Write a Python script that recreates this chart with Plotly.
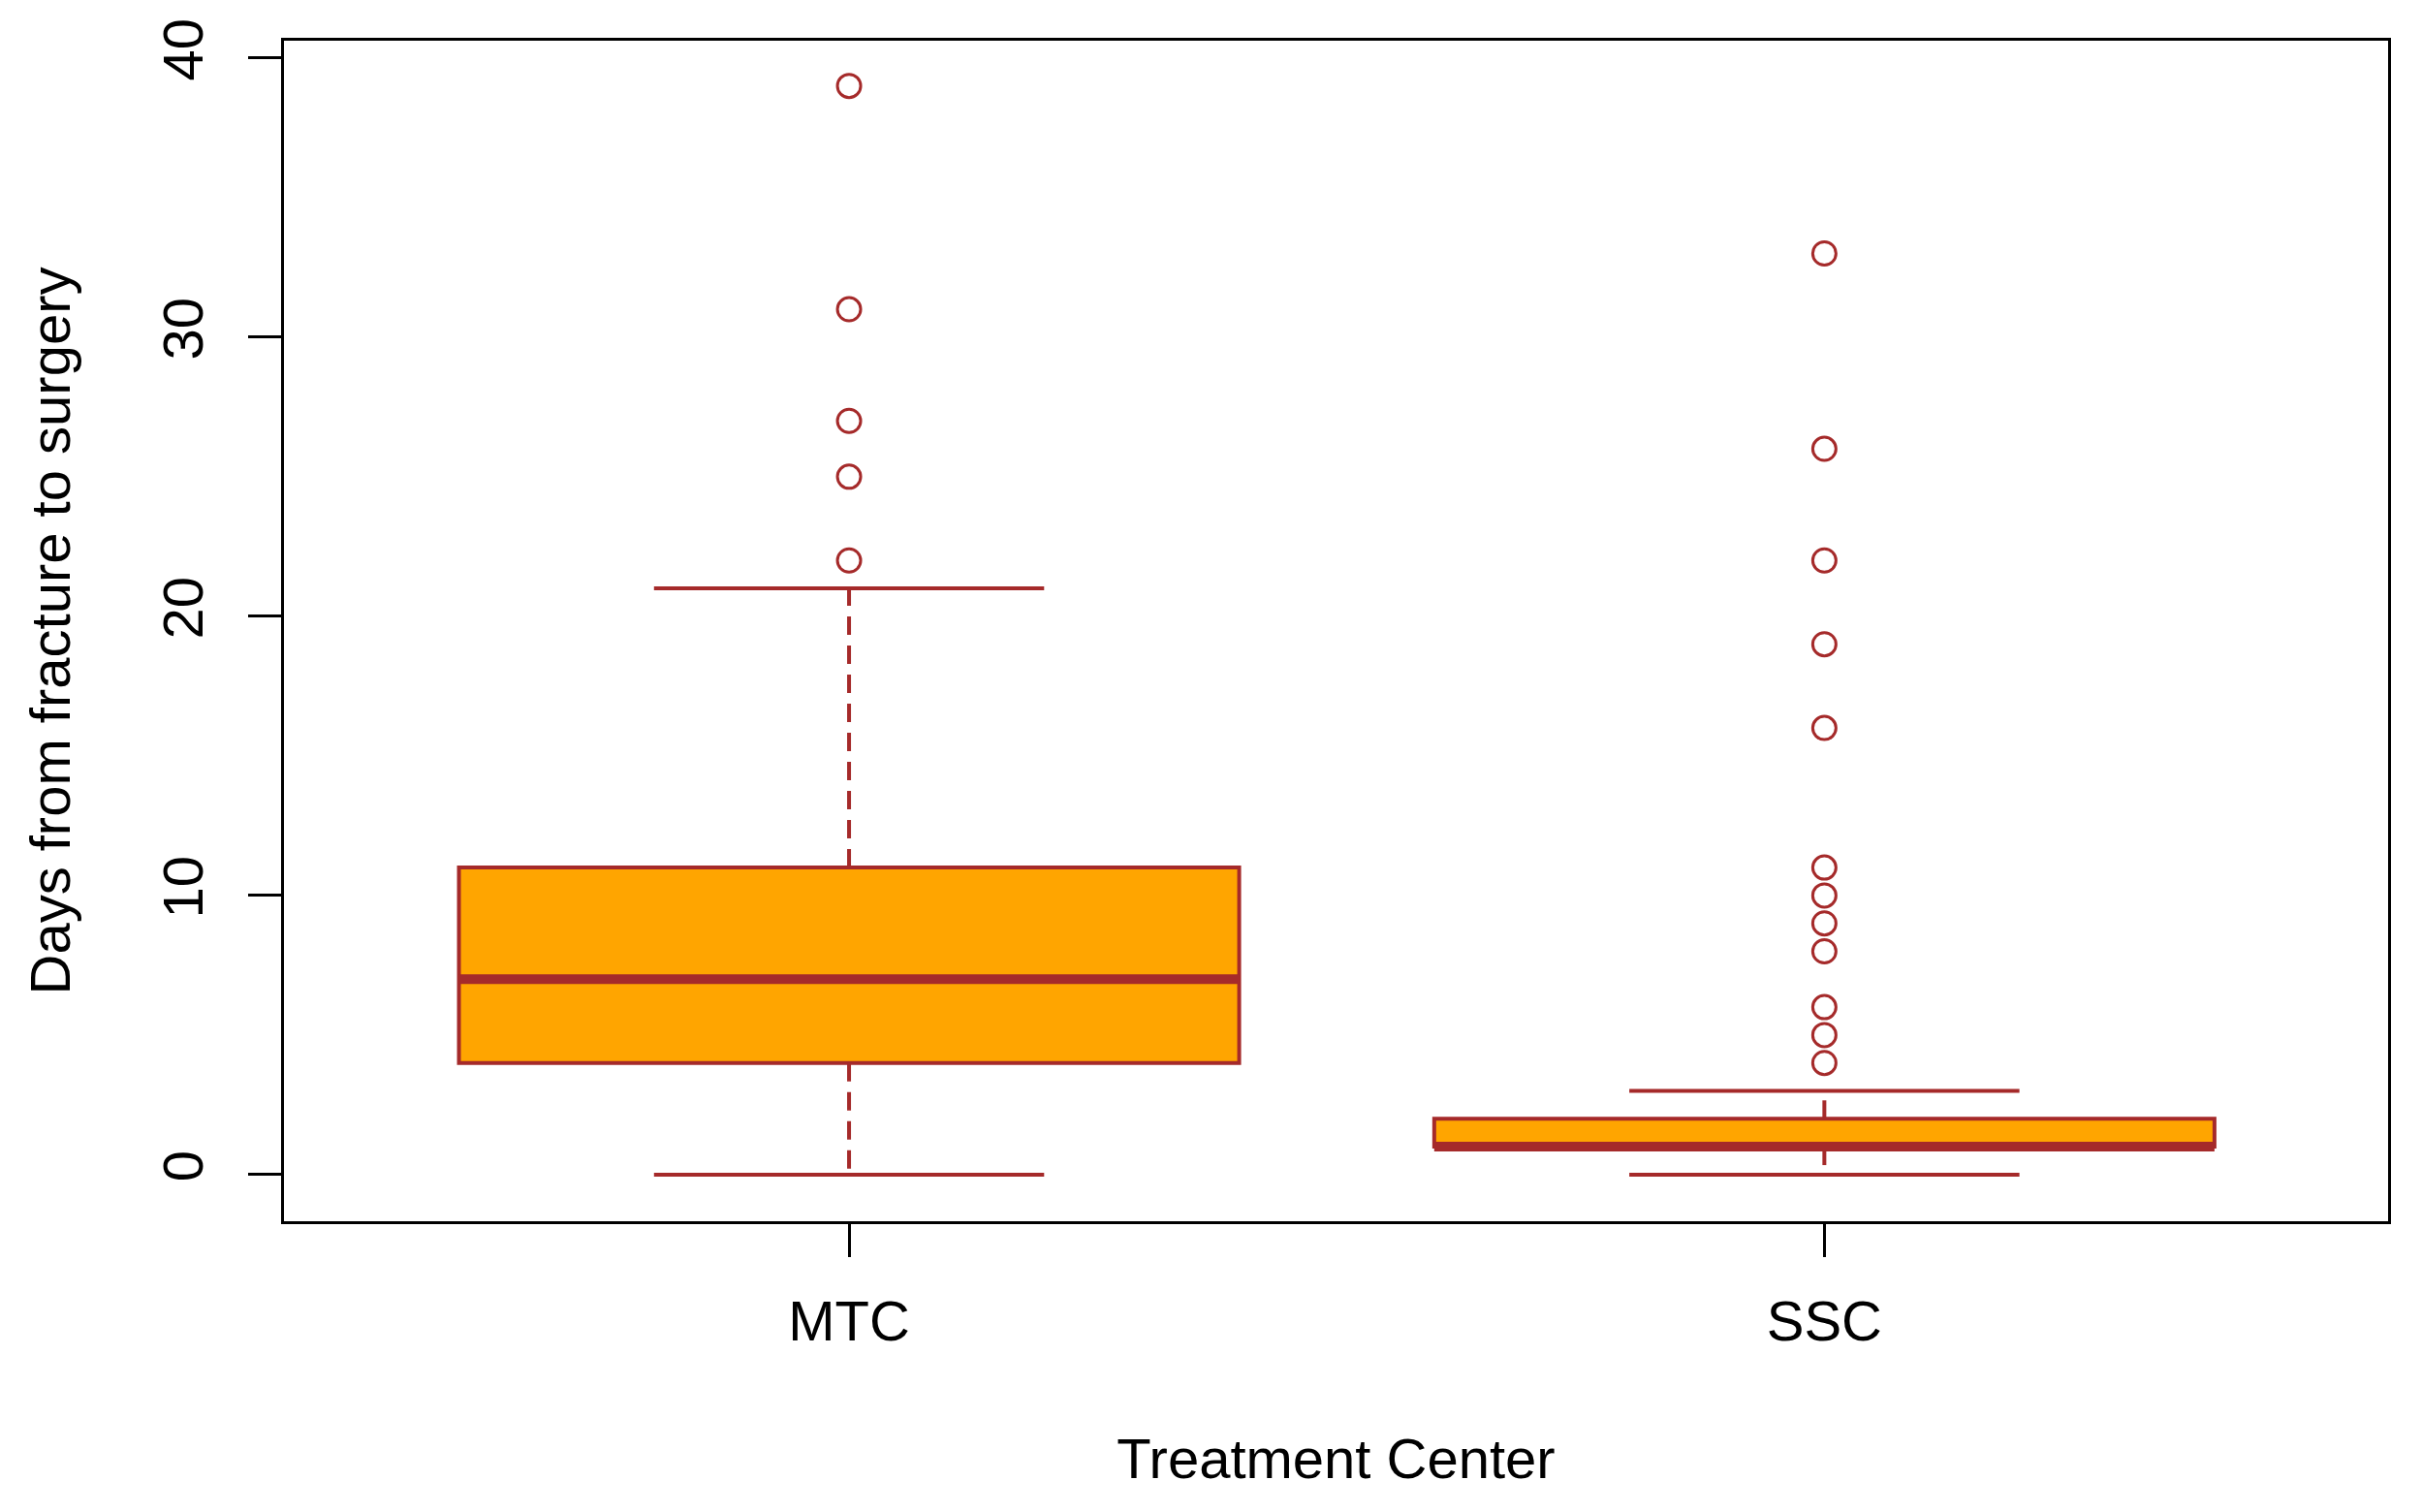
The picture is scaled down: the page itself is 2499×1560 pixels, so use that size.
import plotly.graph_objects as go

# boxplot stats (days)
groups = ["MTC", "SSC"]
group_pos = [1, 2]
q1 = [4, 1]
median = [7, 1]
q3 = [11, 2]
whisker_low = [0, 0]
whisker_high = [21, 3]
mtc_outliers = [22, 25, 27, 31, 39]
ssc_outliers = [4, 5, 6, 8, 9, 10, 11, 16, 19, 22, 26, 33]
y_ticks = [0, 10, 20, 30, 40]

brown = "#A52A2A"
orange = "#FFA500"
font = "Liberation Sans, Arial, sans-serif"
half_box = 0.4
half_cap = 0.2

fig = go.Figure()

# box bodies (whiskers drawn separately so they can be dashed)
fig.add_trace(go.Box(
    x=group_pos, q1=q1, median=median, q3=q3,
    lowerfence=q1, upperfence=q3,
    width=2 * half_box, fillcolor=orange,
    line=dict(color=brown, width=4),
    boxpoints=False, showlegend=False, hoverinfo="skip",
))

for g, lo, a, m, b, hi in zip(group_pos, whisker_low, q1, median, q3, whisker_high):
    # dashed whiskers
    fig.add_trace(go.Scatter(
        x=[g, g, None, g, g], y=[b, hi, None, a, lo], mode="lines",
        line=dict(color=brown, width=4, dash="19px,11px"),
        showlegend=False, hoverinfo="skip",
    ))
    # caps
    fig.add_trace(go.Scatter(
        x=[g - half_cap, g + half_cap, None, g - half_cap, g + half_cap],
        y=[hi, hi, None, lo, lo], mode="lines",
        line=dict(color=brown, width=4),
        showlegend=False, hoverinfo="skip",
    ))
    # thick median
    fig.add_trace(go.Scatter(
        x=[g - half_box, g + half_box], y=[m, m], mode="lines",
        line=dict(color=brown, width=10),
        showlegend=False, hoverinfo="skip",
    ))

out_x = [group_pos[0]] * len(mtc_outliers) + [group_pos[1]] * len(ssc_outliers)
out_y = mtc_outliers + ssc_outliers
fig.add_trace(go.Scatter(
    x=out_x, y=out_y, mode="markers",
    marker=dict(symbol="circle-open", size=24, color=brown, line=dict(width=3, color=brown)),
    showlegend=False,
))

axis_common = dict(
    showline=True, linecolor="black", linewidth=3, mirror=True,
    ticks="outside", ticklen=34, tickwidth=3, tickcolor="black",
    showgrid=False, zeroline=False,
    tickfont=dict(family=font, size=58, color="black"),
)

fig.update_xaxes(
    range=[0.4206, 2.578], tickmode="array", tickvals=group_pos, ticktext=groups,
    ticklabelstandoff=16,
    title=dict(text="Treatment Center", font=dict(family=font, size=58, color="black"), standoff=91),
    **axis_common,
)
fig.update_yaxes(
    range=[-1.67, 40.62], tickmode="array", tickvals=y_ticks, tickangle=-90,
    ticklabelstandoff=24,
    title=dict(text="Days from fracture to surgery", font=dict(family=font, size=58, color="black"), standoff=65),
    **axis_common,
)

# page body has an 8px default margin, so the figure is shrunk by that much
fig.update_layout(
    width=2491, height=1552,
    margin=dict(l=285, r=35, t=34, b=300),
    plot_bgcolor="white", paper_bgcolor="white",
    font=dict(family=font, color="black"),
)

fig.write_html("out.html")
